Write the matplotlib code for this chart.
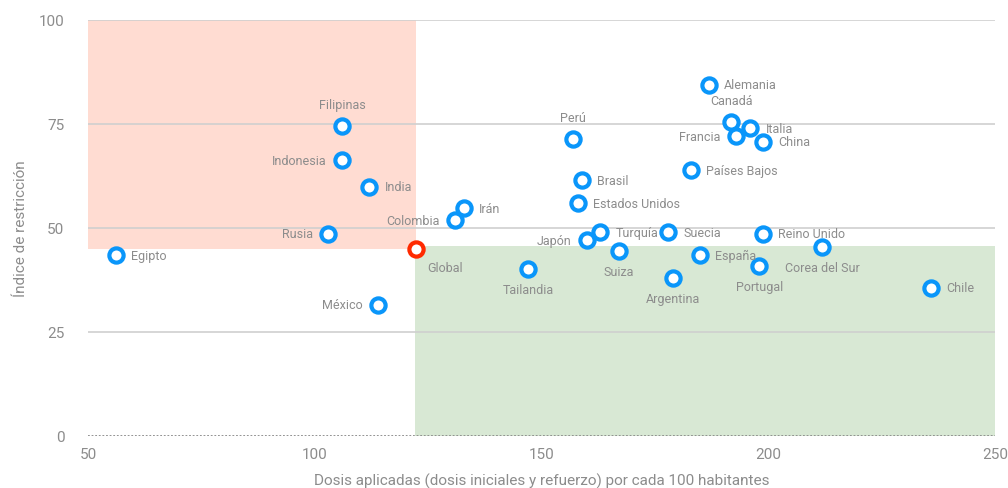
import matplotlib.pyplot as plt

# data
paises = ["Egipto", "Filipinas", "Indonesia", "India", "Rusia", "México",
          "Colombia", "Irán", "Tailandia", "Perú", "Brasil", "Estados Unidos",
          "Japón", "Turquía", "Suiza", "Argentina", "Suecia", "España",
          "Países Bajos", "Alemania", "Canadá", "Francia", "Italia", "China",
          "Portugal", "Reino Unido", "Corea del Sur", "Chile"]
dosis = [56.2, 106.0, 106.0, 112.0, 102.9, 113.9,
         130.9, 132.9, 147.0, 156.9, 158.9, 158.0,
         160.0, 162.9, 167.1, 179.0, 177.9, 184.9,
         183.0, 186.9, 191.8, 192.9, 196.0, 198.8,
         198.0, 198.8, 211.9, 235.9]
restriccion = [43.5, 74.5, 66.3, 59.9, 48.6, 31.5,
               51.9, 54.8, 40.1, 71.4, 61.5, 56.0,
               47.1, 49.0, 44.5, 38.0, 49.0, 43.5,
               63.9, 84.4, 75.5, 72.1, 74.0, 70.7,
               40.9, 48.6, 45.4, 35.6]
# label placement: r = right, l = left, a = above, b = below
posicion = ["r", "a", "l", "r", "l", "l",
            "l", "r", "b", "a", "r", "r",
            "l", "r", "b", "b", "r", "r",
            "r", "r", "a", "l", "r", "r",
            "b", "r", "b", "r"]
global_x, global_y = 122.3, 45.0

gris = "#8c8c8c"
azul = "#0a96fa"
rojo = "#ff2a00"

plt.rcParams["font.family"] = ["Roboto", "DejaVu Sans"]

fig = plt.figure(figsize=(10.08, 4.89), dpi=100)
ax = fig.add_axes([88 / 1008, 52 / 489, 907 / 1008, 416 / 489])

# quadrant backgrounds
ax.add_patch(plt.Rectangle((50, global_y), global_x - 50, 100 - global_y,
                           facecolor="#ffdcd2", edgecolor="none", zorder=0))
ax.add_patch(plt.Rectangle((global_x - 0.3, 0), 250 - global_x + 0.3, global_y + 0.6,
                           facecolor="#d8e8d4", edgecolor="none", zorder=0))

# grid
for yv in [25, 50, 75, 100]:
    ax.axhline(yv, color="#cfcfcf", lw=1.2, zorder=1)
ax.axhline(0, color="#8a8a8a", lw=1.3, ls=(0, (1, 1)), zorder=1)

ax.scatter(dosis, restriccion, s=105, facecolor="white", edgecolor=azul,
           linewidth=3.0, zorder=3)
ax.scatter([global_x], [global_y], s=105, facecolor="white", edgecolor=rojo,
           linewidth=3.0, zorder=3)

fs = 9
for nombre, x, y, p in zip(paises, dosis, restriccion, posicion):
    if p == "r":
        ax.annotate(nombre, (x, y), xytext=(11, 0), textcoords="offset points",
                    ha="left", va="center", fontsize=fs, color=gris)
    elif p == "l":
        ax.annotate(nombre, (x, y), xytext=(-11, 0), textcoords="offset points",
                    ha="right", va="center", fontsize=fs, color=gris)
    elif p == "a":
        ax.annotate(nombre, (x, y), xytext=(0, 11), textcoords="offset points",
                    ha="center", va="bottom", fontsize=fs, color=gris)
    else:
        ax.annotate(nombre, (x, y), xytext=(0, -10), textcoords="offset points",
                    ha="center", va="top", fontsize=fs, color=gris)
ax.annotate("Global", (global_x, global_y), xytext=(21, -9),
            textcoords="offset points", ha="center", va="top", fontsize=fs, color=gris)

ax.set_xlim(50, 250)
ax.set_ylim(0, 100)
ax.set_xticks([50, 100, 150, 200, 250])
ax.set_yticks([0, 25, 50, 75, 100])
for s in ax.spines.values():
    s.set_visible(False)
ax.tick_params(axis="both", length=0, labelsize=11, labelcolor=gris)
ax.tick_params(axis="y", pad=17)
ax.tick_params(axis="x", pad=8)
ax.set_xlabel("Dosis aplicadas (dosis iniciales y refuerzo) por cada 100 habitantes",
              fontsize=11, color=gris, labelpad=8)
ax.set_ylabel("Índice de restricción", fontsize=11, color=gris, labelpad=8)

plt.savefig("out.png", dpi=100)
